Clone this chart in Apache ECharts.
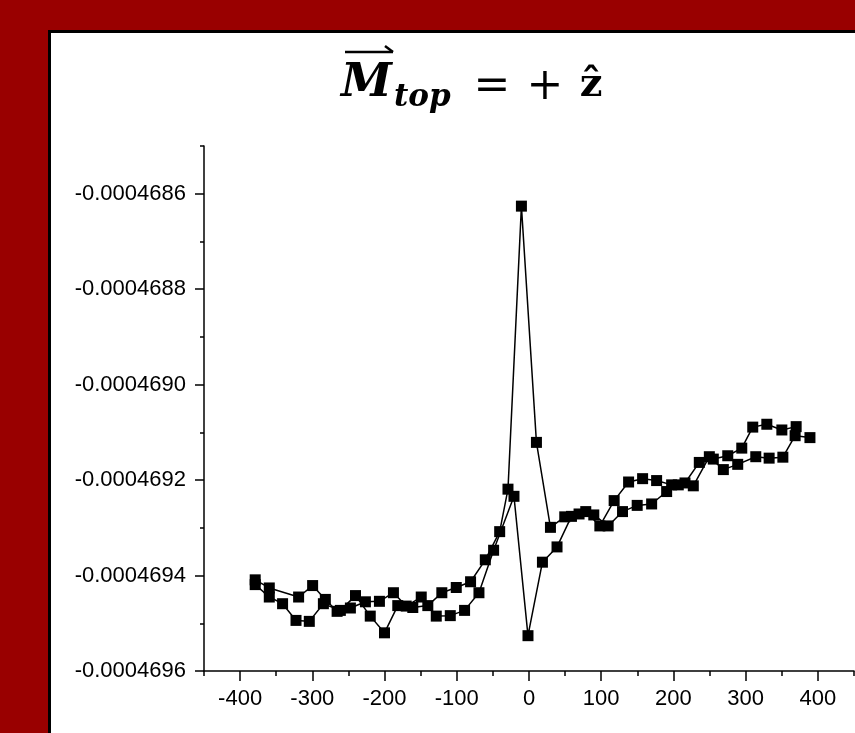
<!DOCTYPE html>
<html>
<head>
<meta charset="utf-8">
<script src="https://cdn.jsdelivr.net/npm/echarts@6/dist/echarts.min.js"></script>
<style>
  html, body { margin: 0; padding: 0; background: #990000; }
  #chart { width: 855px; height: 733px; }
</style>
</head>
<body>
<div id="chart"></div>
<script>
// axis ticks
const xTicks = [-400, -300, -200, -100, 0, 100, 200, 300, 400];
const xMinorTicks = [-450, -350, -250, -150, -50, 50, 150, 250, 350, 450];
const yTicks = [-0.0004696, -0.0004694, -0.0004692, -0.000469, -0.0004688, -0.0004686];
const yMinorTicks = [-0.0004695, -0.0004693, -0.0004691, -0.0004689, -0.0004687, -0.0004685];

// branch with the peak
const sweepAX = [-379.1, -359.6, -341.2, -322.6, -304.2, -284.7, -261.2, -240.2, -219.8, -200.1,
  -181.7, -160.9, -140.1, -120.7, -100.7, -80.9, -60.5, -40.6, -29.1, -10.5,
  10.3, 29.7, 49.5, 69.3, 89.7, 109.6, 129.5, 149.8, 169.8, 190.6,
  206.7, 227.5, 249.7, 269.1, 289.0, 314.0, 332.5, 351.5, 368.5, 389.0];
const sweepAY = [-0.000469419, -0.000469445, -0.000469459, -0.000469494, -0.000469496, -0.000469459, -0.000469473, -0.000469442, -0.000469485, -0.000469520,
  -0.000469463, -0.000469467, -0.000469463, -0.000469436, -0.000469425, -0.000469413, -0.000469367, -0.000469308, -0.000469219, -0.000468626,
  -0.000469121, -0.000469299, -0.000469277, -0.000469271, -0.000469273, -0.000469296, -0.000469266, -0.000469253, -0.000469250, -0.000469224,
  -0.000469210, -0.000469212, -0.000469151, -0.000469178, -0.000469167, -0.000469151, -0.000469154, -0.000469152, -0.000469107, -0.000469111];

// branch with the dip
const sweepBX = [-379.1, -359.6, -319.0, -299.6, -282.0, -265.7, -247.3, -226.5, -207.1, -187.7,
  -170.0, -149.2, -128.4, -109.0, -89.2, -69.3, -49.0, -20.8, -1.4, 18.6,
  38.8, 58.8, 78.6, 98.1, 117.9, 137.9, 157.3, 176.7, 197.5, 216.0,
  235.8, 255.2, 275.2, 294.6, 309.8, 329.3, 350.1, 369.9];
const sweepBY = [-0.000469409, -0.000469426, -0.000469445, -0.000469421, -0.000469450, -0.000469475, -0.000469468, -0.000469455, -0.000469454, -0.000469436,
  -0.000469464, -0.000469445, -0.000469485, -0.000469484, -0.000469473, -0.000469436, -0.000469347, -0.000469234, -0.000469526, -0.000469372,
  -0.000469340, -0.000469276, -0.000469266, -0.000469296, -0.000469243, -0.000469204, -0.000469197, -0.000469201, -0.000469210, -0.000469206,
  -0.000469163, -0.000469156, -0.000469149, -0.000469133, -0.000469089, -0.000469083, -0.000469095, -0.000469088];

const chart = echarts.init(document.getElementById('chart'));

const labelFont = { color: '#000', fontFamily: 'Liberation Sans', fontSize: 22 };
const lineSeries = (xs, ys) => ({
  type: 'line',
  data: xs.map((x, i) => [x, ys[i]]),
  symbol: 'rect',
  symbolSize: 11,
  itemStyle: { color: '#000' },
  lineStyle: { color: '#000', width: 1.5 },
  animation: false
});

const option = {
  backgroundColor: '#990000',
  animation: false,
  grid: { left: 204, right: 1, top: 146, bottom: 62 },
  xAxis: [
    {
      type: 'value', min: -450, max: 450, position: 'bottom',
      splitLine: { show: false },
      axisLine: { onZero: false, lineStyle: { color: '#000', width: 1.5 } },
      axisTick: { customValues: xTicks, length: 10, lineStyle: { color: '#000', width: 1.5 } },
      axisLabel: Object.assign({ customValues: xTicks, margin: 17 }, labelFont)
    },
    {
      type: 'value', min: -450, max: 450, position: 'bottom',
      splitLine: { show: false },
      axisLine: { show: false, onZero: false },
      axisLabel: { show: false },
      axisTick: { customValues: xMinorTicks, length: 5, lineStyle: { color: '#000', width: 1.5 } }
    }
  ],
  yAxis: [
    {
      type: 'value', min: -0.0004696, max: -0.0004685, position: 'left',
      splitLine: { show: false },
      axisLine: { onZero: false, lineStyle: { color: '#000', width: 1.5 } },
      axisTick: { customValues: yTicks, length: 9, lineStyle: { color: '#000', width: 1.5 } },
      axisLabel: Object.assign({ customValues: yTicks, margin: 18, formatter: v => v.toFixed(7) }, labelFont)
    },
    {
      type: 'value', min: -0.0004696, max: -0.0004685, position: 'left',
      splitLine: { show: false },
      axisLine: { show: false, onZero: false },
      axisLabel: { show: false },
      axisTick: { customValues: yMinorTicks, length: 4, lineStyle: { color: '#000', width: 1.5 } }
    }
  ],
  graphic: [
    { type: 'rect', z: -10, shape: { x: 49.5, y: 31.5, width: 900, height: 800 },
      style: { fill: '#fff', stroke: '#000', lineWidth: 3 } },
    { type: 'text', x: 341, y: 84,
      style: { text: 'M', fontFamily: 'DejaVu Serif', fontSize: 46, fontWeight: 'bold', fontStyle: 'italic', fill: '#000', verticalAlign: 'middle' } },
    { type: 'line', shape: { x1: 345, y1: 52, x2: 393, y2: 52 }, style: { stroke: '#000', lineWidth: 2.5 } },
    { type: 'polyline', shape: { points: [[385, 46], [393, 52]] }, style: { stroke: '#000', lineWidth: 2.5, fill: null } },
    { type: 'text', x: 394, y: 98,
      style: { text: 'top', fontFamily: 'DejaVu Serif', fontSize: 31, fontWeight: 'bold', fontStyle: 'italic', fill: '#000', verticalAlign: 'middle' } },
    { type: 'text', x: 492, y: 88,
      style: { text: '=', fontFamily: 'DejaVu Serif', fontSize: 44, fill: '#000', align: 'center', verticalAlign: 'middle' } },
    { type: 'text', x: 545, y: 88,
      style: { text: '+', fontFamily: 'DejaVu Serif', fontSize: 44, fill: '#000', align: 'center', verticalAlign: 'middle' } },
    { type: 'text', x: 591, y: 86,
      style: { text: 'ẑ', fontFamily: 'DejaVu Serif', fontSize: 40, fontWeight: 'bold', fill: '#000', align: 'center', verticalAlign: 'middle' } }
  ],
  series: [
    lineSeries(sweepAX, sweepAY),
    lineSeries(sweepBX, sweepBY)
  ]
};

chart.setOption(option);
</script>
</body>
</html>
